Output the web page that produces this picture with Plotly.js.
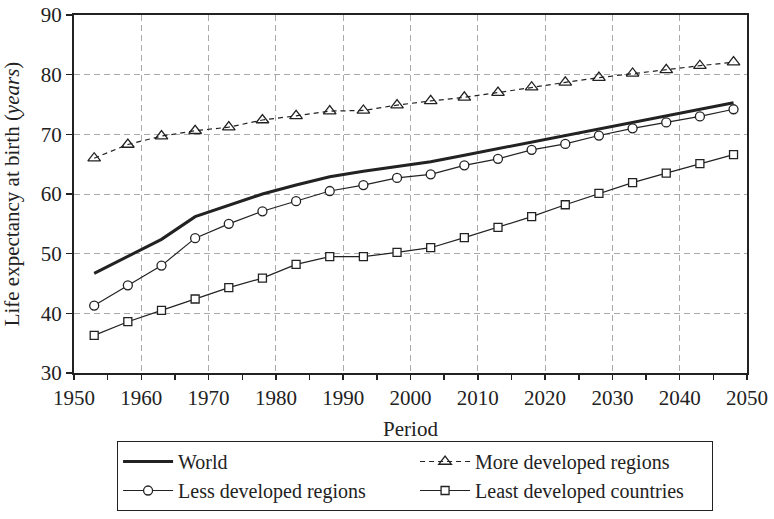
<!DOCTYPE html>
<html>
<head>
<meta charset="utf-8">
<script src="https://cdn.plot.ly/plotly-3.0.1.min.js"></script>
<style>html,body{margin:0;padding:0;background:#fff;}</style>
</head>
<body>
<div id="chart" style="width:774px;height:519px;"></div>
<script>
var periods = [1953,1958,1963,1968,1973,1978,1983,1988,1993,1998,2003,2008,2013,2018,2023,2028,2033,2038,2043,2048];
var world = [46.7,49.6,52.4,56.2,58.1,60.0,61.5,62.9,63.8,64.6,65.4,66.5,67.6,68.8,69.9,71.0,72.1,73.1,74.2,75.3];
var moreDeveloped = [66.0,68.3,69.7,70.6,71.2,72.4,73.1,73.9,74.0,74.9,75.6,76.2,77.0,77.9,78.7,79.5,80.2,80.8,81.5,82.1];
var lessDeveloped = [41.3,44.7,48.0,52.6,55.0,57.1,58.8,60.5,61.5,62.7,63.3,64.8,65.9,67.4,68.4,69.8,71.0,72.0,73.0,74.2];
var leastDeveloped = [36.3,38.6,40.5,42.4,44.3,45.9,48.2,49.5,49.5,50.2,51.0,52.7,54.4,56.2,58.2,60.1,61.9,63.5,65.1,66.6];
var seriesNames = ["World","More developed regions","Less developed regions","Least developed countries"];

var ink = "#222";
var traces = [
  {x: periods, y: world, name: seriesNames[0], mode: "lines",
   line: {color: ink, width: 3}},
  {x: periods, y: moreDeveloped, name: seriesNames[1], mode: "lines+markers",
   line: {color: ink, width: 1.2, dash: "5px,4px"},
   marker: {symbol: "triangle-up-open", size: 11, color: ink, line: {width: 1.3, color: ink}}},
  {x: periods, y: lessDeveloped, name: seriesNames[2], mode: "lines+markers",
   line: {color: ink, width: 1.2},
   marker: {symbol: "circle", size: 9, color: "#fff", line: {width: 1.3, color: ink}}},
  {x: periods, y: leastDeveloped, name: seriesNames[3], mode: "lines+markers",
   line: {color: ink, width: 1.2},
   marker: {symbol: "square", size: 8, color: "#fff", line: {width: 1.3, color: ink}}}
];

var font = "Liberation Serif, Times New Roman, serif";
var layout = {
  width: 774, height: 519,
  margin: {l: 74, r: 27, t: 15, b: 146, autoexpand: false},
  paper_bgcolor: "#fff", plot_bgcolor: "#fff",
  font: {family: font, size: 21, color: "#222"},
  showlegend: true,
  xaxis: {
    range: [1950, 2050], dtick: 10, tick0: 1950,
    ticks: "outside", ticklen: 5, tickcolor: ink, tickwidth: 1.5,
    showline: true, linecolor: ink, linewidth: 2, mirror: true,
    showgrid: true, gridcolor: "#aaa", gridwidth: 1, griddash: "6px,4px",
    zeroline: false, automargin: false,
    tickfont: {family: font, size: 21, color: "#222"},
    minor: {dtick: 5, ticks: "outside", ticklen: 5, tickcolor: ink, tickwidth: 1.5, showgrid: false},
    title: {text: "Period", font: {family: font, size: 21, color: "#222"}, standoff: 12}
  },
  yaxis: {
    range: [30, 90], dtick: 10, tick0: 30,
    ticks: "outside", ticklen: 6, tickcolor: ink, tickwidth: 1.5,
    showline: true, linecolor: ink, linewidth: 2, mirror: true,
    showgrid: true, gridcolor: "#aaa", gridwidth: 1, griddash: "6px,4px",
    zeroline: false, automargin: false,
    tickfont: {family: font, size: 21, color: "#222"},
    title: {text: "Life expectancy at birth (<i>years</i>)", font: {family: font, size: 21, color: "#222"}, standoff: 17}
  },
  legend: {
    orientation: "h", x: 0.064, xanchor: "left", y: -0.19, yanchor: "top",
    bordercolor: ink, borderwidth: 1, bgcolor: "#fff",
    font: {family: font, size: 20, color: "#222"},
    entrywidth: 232, itemwidth: 50, traceorder: "normal"
  }
};

Plotly.newPlot("chart", traces, layout, {displayModeBar: false, staticPlot: true});
</script>
</body>
</html>
